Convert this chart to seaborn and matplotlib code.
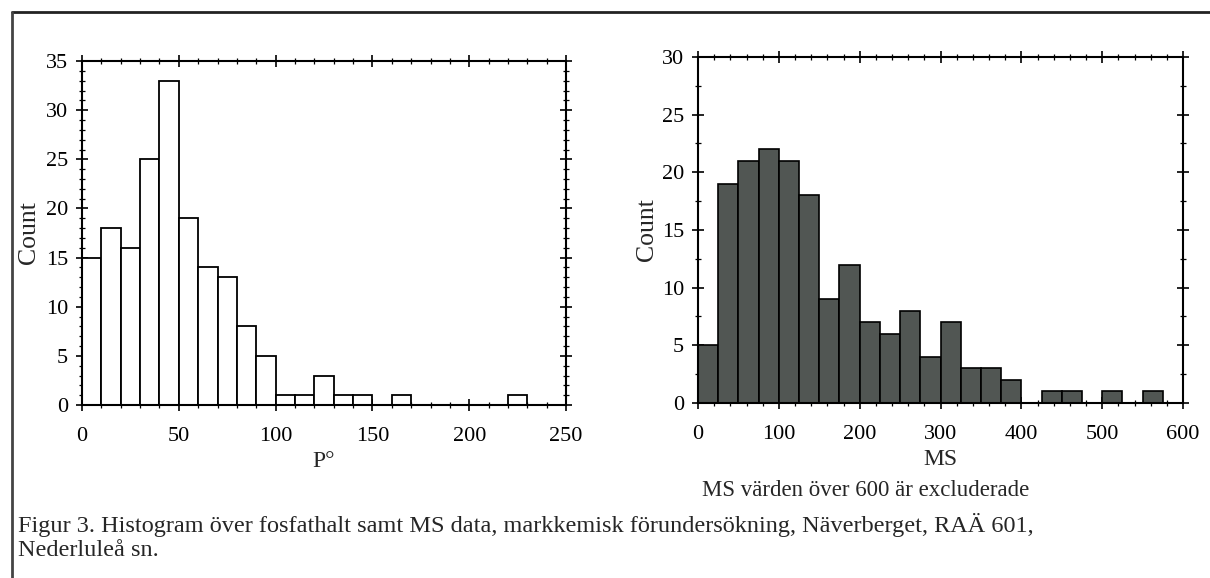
import numpy as np
import pandas as pd
import matplotlib
matplotlib.use("Agg")
import matplotlib.pyplot as plt
import seaborn as sns
from matplotlib.lines import Line2D
from matplotlib.ticker import MultipleLocator

# phosphate (P°) histogram, bin width 10
p_bin_start = [0, 10, 20, 30, 40, 50, 60, 70, 80, 90, 100, 110, 120, 130, 140,
               150, 160, 170, 180, 190, 200, 210, 220]
p_counts = [15, 18, 16, 25, 33, 19, 14, 13, 8, 5, 1, 1, 3, 1, 1, 0, 1, 0, 0, 0, 0, 0, 1]

# MS histogram, bin width 25
ms_bin_start = [0, 25, 50, 75, 100, 125, 150, 175, 200, 225, 250, 275, 300, 325,
                350, 375, 400, 425, 450, 475, 500, 525, 550]
ms_counts = [5, 19, 21, 22, 21, 18, 9, 12, 7, 6, 8, 4, 7, 3, 3, 2, 0, 1, 1, 0, 1, 0, 1]

caption_1 = ("Figur 3. Histogram över fosfathalt samt MS data, markkemisk förundersökning, "
             "Näverberget, RAÄ 601,")
caption_2 = "Nederluleå sn."

sns.set_style("white")
plt.rcParams["font.family"] = ["Liberation Serif", "DejaVu Serif"]

p_df = pd.DataFrame({"P": np.array(p_bin_start) + 5, "n": p_counts})
ms_df = pd.DataFrame({"MS": np.array(ms_bin_start) + 12.5, "n": ms_counts})


def style_axes(ax, xmaj, xmin, ymaj, ymin):
    ax.xaxis.set_major_locator(MultipleLocator(xmaj))
    ax.xaxis.set_minor_locator(MultipleLocator(xmin))
    ax.yaxis.set_major_locator(MultipleLocator(ymaj))
    ax.yaxis.set_minor_locator(MultipleLocator(ymin))
    ax.tick_params(which="both", direction="inout", top=True, right=True,
                   bottom=True, left=True, colors="black", labelsize=16)
    ax.tick_params(axis="x", which="both", pad=11.5)
    ax.tick_params(axis="y", which="both", pad=6)
    ax.tick_params(which="major", length=8, width=1.2)
    ax.tick_params(which="minor", length=4, width=0.9)
    for s in ax.spines.values():
        s.set_visible(True)
        s.set_color("black")
        s.set_linewidth(1.5)
    return ax


fig = plt.figure(figsize=(12.1, 5.78), dpi=100, facecolor="white")

# ---- left: P°
ax1 = fig.add_axes([0.0678, 0.2993, 0.400, 0.595])
sns.histplot(data=p_df, x="P", weights="n", binwidth=10, binrange=(0, 230),
             ax=ax1, color="white", edgecolor="black", linewidth=1.3, alpha=1)
ax1.set_xlim(0, 250)
ax1.set_ylim(0, 35)
style_axes(ax1, 50, 10, 5, 1)
ax1.set_xlabel("P°", fontsize=17, labelpad=4)
ax1.set_ylabel("Count", fontsize=18.5, labelpad=4)

# ---- right: MS
ax2 = fig.add_axes([0.5769, 0.3028, 0.4008, 0.5986])
sns.histplot(data=ms_df, x="MS", weights="n", binwidth=25, binrange=(0, 575),
             ax=ax2, color="#515653", edgecolor="black", linewidth=1.2, alpha=1)
ax2.set_xlim(0, 600)
ax2.set_ylim(0, 30)
style_axes(ax2, 100, 20, 5, 2.5)
ax2.set_xlabel("MS", fontsize=17, labelpad=4)
ax2.set_ylabel("Count", fontsize=18.5, labelpad=3)

fig.text(866 / 1210, 1 - 491 / 578, "MS värden över 600 är excluderade",
         fontsize=16.5, ha="center", va="center")

fig.text(0.015, 1 - 525 / 578, caption_1, fontsize=17.5, ha="left", va="center")
fig.text(0.015, 1 - 551 / 578, caption_2, fontsize=17.5, ha="left", va="center")

# page frame
fig.add_artist(Line2D([12 / 1210, 1.0], [1 - 12 / 578, 1 - 12 / 578],
                      transform=fig.transFigure, color="#222222", lw=2))
fig.add_artist(Line2D([12 / 1210, 12 / 1210], [0, 1 - 12 / 578],
                      transform=fig.transFigure, color="#444444", lw=2))

fig.savefig("out.png", dpi=100, facecolor="white")
